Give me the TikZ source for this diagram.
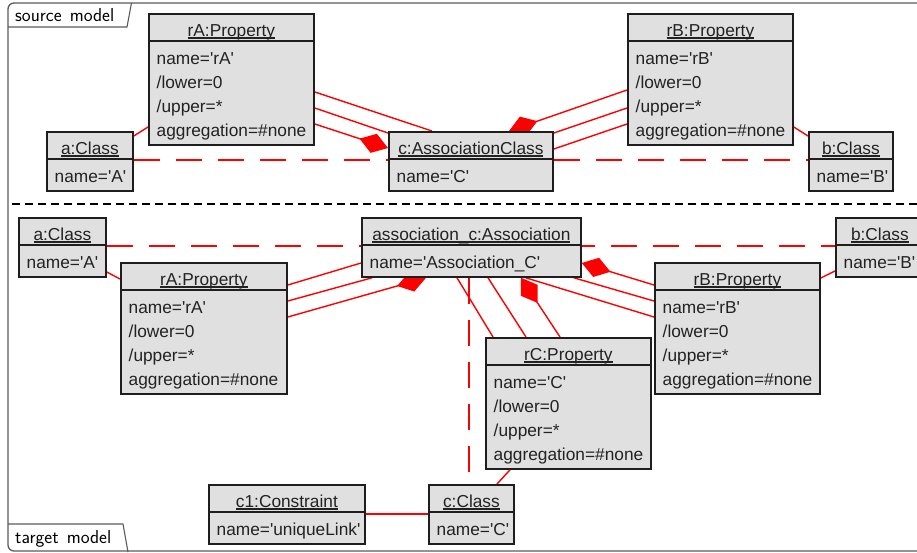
\documentclass[tikz,border=0pt]{standalone}
\usepackage{fontspec}
\setmainfont{Liberation Sans}
\usetikzlibrary{calc,arrows.meta}
\pgfdeclarelayer{bg}
\pgfsetlayers{bg,main}
\definecolor{boxfill}{HTML}{E0E0E0}
\definecolor{boxdraw}{HTML}{1E1E1E}
\definecolor{textc}{HTML}{222222}
\definecolor{framec}{HTML}{5A5A5A}
\newcommand\q{\textquotesingle}
\newcommand\ulhdr[1]{\setbox0\hbox{#1}\rlap{\color{textc}\vrule height -1.3pt depth 2.6pt width \wd0}\box0}
\newcommand\umlobj[7]{%
  \node[objbox, minimum width=#4pt, minimum height=#5pt, anchor=north west] (#1) at (#2,#3) {};
  \draw[objline] ($(#1.north west)+(0,28)$) -- ($(#1.north east)+(0,28)$);
  \node[hdrtext] (#1-h) at ($(#1.north)+(0,23)$) {\ulhdr{#6}};
  \foreach \t [count=\i] in {#7} {
    \node[bodytext] (#1-\i) at ($(#1.north west)+(8.5,{51+24*(\i-1)})$) {\t};
  }%
}
\begin{document}
\begin{tikzpicture}[x=1pt,y=-1pt,
  objbox/.style={draw=boxdraw, fill=boxfill, line width=1.8pt, inner sep=0pt},
  objline/.style={draw=boxdraw, line width=1.8pt},
  hdrtext/.style={anchor=base, inner sep=0pt, text=textc, font=\fontsize{17.3}{20}\selectfont},
  bodytext/.style={anchor=base west, inner sep=0pt, text=textc, font=\fontsize{17.3}{20}\selectfont},
  tabtext/.style={anchor=base west, inner sep=0pt, text=black, font=\sffamily\fontsize{18.8}{20}\selectfont},
  conn/.style={draw=red, line width=1.4pt},
  dconn/.style={conn, dash pattern=on 26pt off 16pt},
  comp/.style={conn, -{Diamond[length=30pt,width=20pt,fill=red]}},
  frameline/.style={draw=framec, line width=1.3pt},
  sepline/.style={draw=black, line width=2pt, dash pattern=on 8pt off 5pt}
]
\useasboundingbox (0,0) rectangle (917,552);

% ---------- source model objects ----------
\umlobj{srA}{148}{13}{165}{131}{rA:Property}{name=\q rA\q, /lower=0, /upper=*, aggregation=\#none}
\umlobj{sA}{46}{131}{86}{59}{a:Class}{name=\q A\q}
\umlobj{sc}{388}{131}{164}{59}{c:AssociationClass}{name=\q C\q}
\umlobj{srB}{627}{13}{165}{131}{rB:Property}{name=\q rB\q, /lower=0, /upper=*, aggregation=\#none}
\umlobj{sB}{808}{131}{84}{59}{b:Class}{name=\q B\q}

% ---------- target model objects ----------
\umlobj{tA}{18}{217}{87}{59}{a:Class}{name=\q A\q}
\umlobj{tas}{361}{217}{219}{59}{association\_c:Association}{name=\q Association\_C\q}
\umlobj{tB}{835}{217}{88}{59}{b:Class}{name=\q B\q}
\umlobj{trA}{120}{262}{166}{131}{rA:Property}{name=\q rA\q, /lower=0, /upper=*, aggregation=\#none}
\umlobj{trB}{654}{262}{165}{131}{rB:Property}{name=\q rB\q, /lower=0, /upper=*, aggregation=\#none}
\umlobj{trC}{485}{337}{165}{131}{rC:Property}{name=\q C\q, /lower=0, /upper=*, aggregation=\#none}
\umlobj{tc}{428}{484}{85}{59}{c:Class}{name=\q C\q}
\umlobj{tc1}{208}{484}{156}{59}{c1:Constraint}{name=\q uniqueLink\q}

% ---------- tabs ----------
\node[tabtext] (srclabel) at (15,21) {source\hspace{0.12em} model};
\node[tabtext] (tgtlabel) at (15,543) {target\hspace{0.12em} model};

\begin{pgfonlayer}{bg}
  % frame and separator
  \draw[frameline, rounded corners=6pt] (8,3) rectangle (960,551);
  \draw[frameline, line width=1.1pt] (8,27) -- (127,27) -- (131.5,3);
  \draw[frameline, line width=1.1pt] (8,524) -- (123,524) -- (128,552);
  \draw[sepline] (12,204) -- (917,204);

  % source connectors
  \draw[conn] ($(sA.north east)+(0,5)$) -- ($(srA.north west)+(0,114)$);
  \draw[dconn] ($(sA.north east)+(0,29)$) -- ($(sB.north west)+(0,29)$);
  \draw[conn] ($(srA.north east)+(0,79)$) -- ($(sc.north west)+(44,0)$);
  \draw[conn] ($(srA.north east)+(0,95)$) -- ($(sc.north west)+(0,2)$);
  \draw[comp] ($(srA.north east)+(0,111)$) -- ($(sc.north west)+(0,17)$);
  \draw[comp] ($(srB.north west)+(0,77)$) -- ($(sc.north west)+(121,0)$);
  \draw[conn] ($(srB.north west)+(0,95)$) -- ($(sc.north east)+(0,2)$);
  \draw[conn] ($(srB.north west)+(0,111)$) -- ($(sc.north east)+(0,18)$);
  \draw[conn] ($(srB.north east)+(0,114)$) -- ($(sB.north west)+(0,5)$);

  % target connectors
  \draw[dconn] ($(tA.north east)+(0,29)$) -- ($(tB.north west)+(0,29)$);
  \draw[conn] ($(tA.north east)+(0,55)$) -- ($(trA.north west)+(0,17)$);
  \draw[conn] ($(trA.north east)+(0,23)$) -- ($(tas.north west)+(0,46)$);
  \draw[conn] ($(trA.north east)+(0,39)$) -- ($(tas.south west)+(11,0)$);
  \draw[comp] ($(trA.north east)+(0,55)$) -- ($(tas.south west)+(65,0)$);
  \draw[comp] ($(trB.north west)+(0,23)$) -- ($(tas.north east)+(0,46)$);
  \draw[conn] ($(trB.north west)+(0,39)$) -- ($(tas.south east)+(-8,0)$);
  \draw[conn] ($(trB.north west)+(0,55)$) -- ($(tas.south east)+(-56,0)$);
  \draw[conn] ($(trC.north west)+(8,0)$) -- ($(tas.south west)+(96,0)$);
  \draw[conn] ($(trC.north west)+(41,0)$) -- ($(tas.south west)+(127,0)$);
  \draw[comp] ($(trC.north west)+(75,0)$) -- ($(tas.south west)+(160,0)$);
  \draw[dconn] ($(tas.south west)+(108,0)$) -- ($(tc.north west)+(41,0)$);
  \draw[conn] ($(trC.south west)+(25,0)$) -- ($(tc.north west)+(69,0)$);
  \draw[conn] ($(tc1.north east)+(0,30)$) -- ($(tc.north west)+(0,30)$);
  \draw[conn] ($(trB.north east)+(0,16)$) -- ($(tB.north west)+(0,54)$);
\end{pgfonlayer}
\end{tikzpicture}
\end{document}
